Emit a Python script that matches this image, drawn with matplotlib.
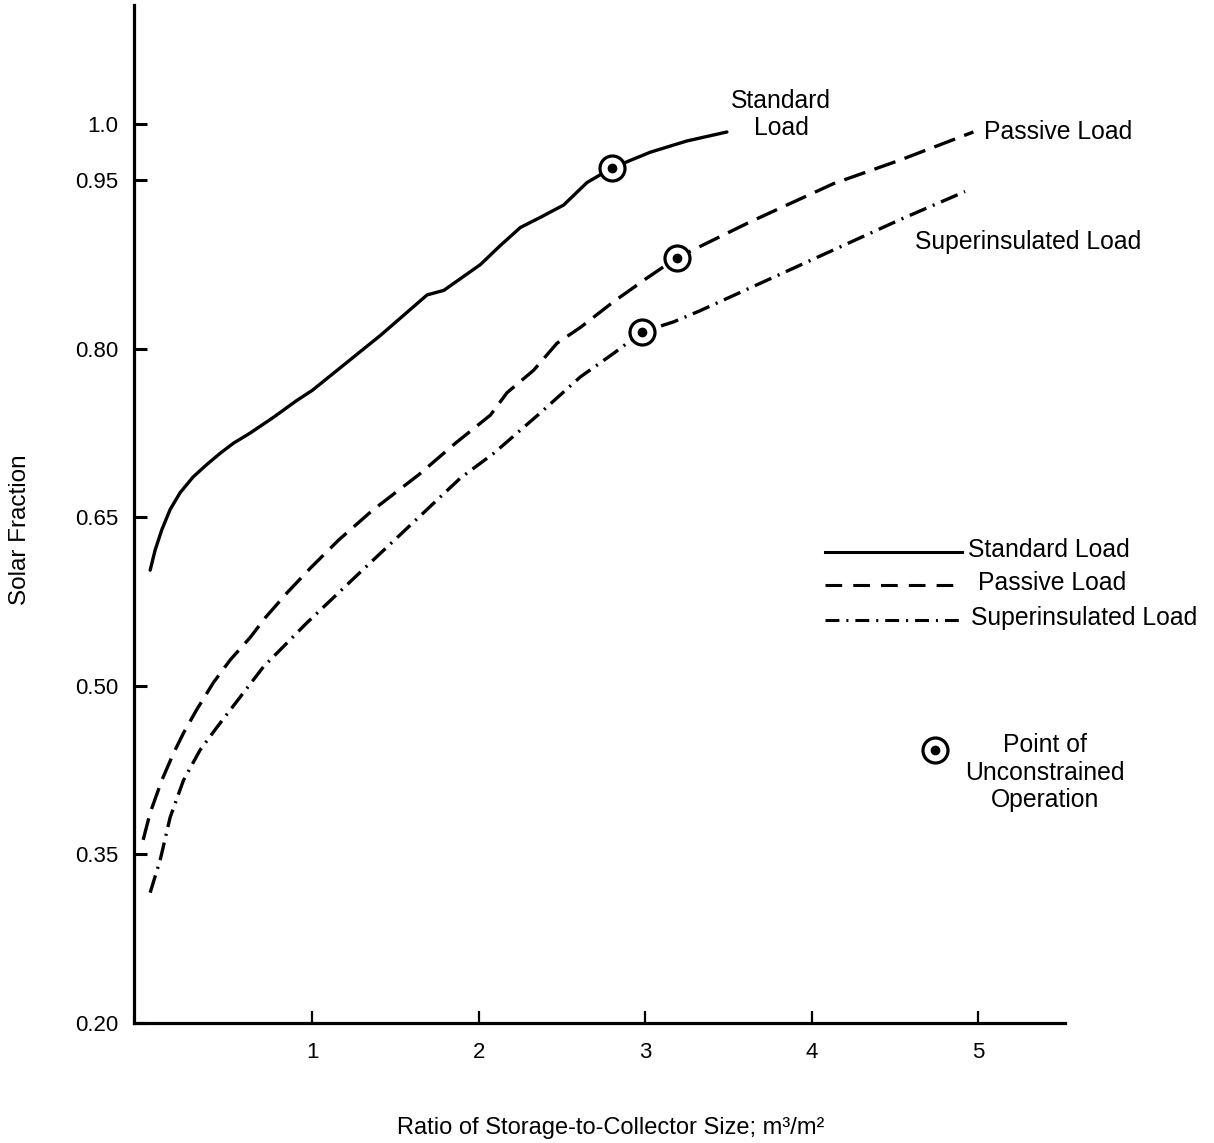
import matplotlib
matplotlib.use("Agg")
import matplotlib.pyplot as plt
from matplotlib.lines import Line2D

plt.rcParams['font.family'] = ['Liberation Sans', 'DejaVu Sans']
plt.rcParams['lines.scale_dashes'] = False

# Storage-to-collector ratio (m3/m2) vs. solar fraction for three load types
standard_x = [0.027, 0.057, 0.097, 0.147, 0.207, 0.285, 0.367, 0.447, 0.527, 0.627, 0.767,
              0.907, 1.00, 1.41, 1.69, 1.79, 2.01, 2.13, 2.25, 2.37, 2.51, 2.65, 2.80, 3.03,
              3.25, 3.49]
standard_y = [0.603, 0.621, 0.639, 0.657, 0.672, 0.686, 0.697, 0.707, 0.716, 0.725, 0.739,
              0.754, 0.763, 0.812, 0.848, 0.852, 0.875, 0.892, 0.908, 0.917, 0.928, 0.948, 0.961, 0.975,
              0.985, 0.993]

passive_x = [-0.015, 0.027, 0.097, 0.167, 0.227, 0.307, 0.407, 0.507, 0.627, 0.72, 0.85,
             0.99, 1.16, 1.36, 1.64, 1.86, 2.07, 2.17, 2.33, 2.47, 2.61, 2.81, 3.01, 3.19,
             3.63, 4.13, 4.53, 4.97]
passive_y = [0.363, 0.387, 0.416, 0.440, 0.458, 0.479, 0.503, 0.523, 0.543, 0.561, 0.583,
             0.605, 0.630, 0.656, 0.688, 0.716, 0.741, 0.761, 0.781, 0.805, 0.819, 0.842, 0.863, 0.881,
             0.913, 0.947, 0.968, 0.993]

superins_x = [0.027, 0.087, 0.147, 0.227, 0.327, 0.427, 0.567, 0.707, 0.847, 0.967, 1.28,
              1.51, 1.89, 2.09, 2.37, 2.61, 2.81, 2.98, 3.17, 3.33, 3.73, 4.13, 4.53, 4.92]
superins_y = [0.316, 0.345, 0.383, 0.416, 0.443, 0.463, 0.490, 0.517, 0.538, 0.556, 0.600,
              0.632, 0.685, 0.707, 0.743, 0.775, 0.796, 0.815, 0.824, 0.834, 0.861, 0.888, 0.915, 0.940]

# Points of unconstrained operation (standard, passive, superinsulated)
unconstrained_x = [2.80, 3.19, 2.98]
unconstrained_y = [0.961, 0.881, 0.815]

x_ticks = [1, 2, 3, 4, 5]
x_tick_labels = ["1", "2", "3", "4", "5"]
y_ticks = [0.20, 0.35, 0.50, 0.65, 0.80, 0.95, 1.0]
y_tick_labels = ["0.20", "0.35", "0.50", "0.65", "0.80", "0.95", "1.0"]

W, H = 1214, 1143
fig = plt.figure(figsize=(W / 100, H / 100), dpi=100)
ax = fig.add_axes([134 / W, 1 - 1023 / H, (1065 - 134) / W, (1023 - 5) / H])

lw = 2.4
dash = (0, (16, 7))
dashdot = (0, (13, 5, 1.5, 5))

ax.plot(standard_x, standard_y, color='black', lw=lw,
        solid_capstyle='round', solid_joinstyle='round')
ax.plot(passive_x, passive_y, color='black', lw=lw, linestyle=dash)
ax.plot(superins_x, superins_y, color='black', lw=lw, linestyle=dashdot)

ax.plot(unconstrained_x, unconstrained_y, linestyle='none', marker='o', ms=18,
        mfc='white', mec='black', mew=2.3, zorder=5)
ax.plot(unconstrained_x, unconstrained_y, linestyle='none', marker='o', ms=6,
        mfc='black', mec='black', zorder=6)

ax.set_xlim(-0.07, 5.52)
ax.set_ylim(0.20, 1.106)

for side in ('top', 'right'):
    ax.spines[side].set_visible(False)
for side in ('left', 'bottom'):
    ax.spines[side].set_linewidth(2.3)

ax.set_xticks(x_ticks)
ax.set_xticklabels(x_tick_labels)
ax.set_yticks(y_ticks)
ax.set_yticklabels(y_tick_labels)
ax.tick_params(axis='y', direction='in', length=9, width=2.2, pad=11, labelsize=16)
ax.tick_params(axis='x', direction='in', length=9, width=1.6, pad=14, labelsize=16)

fs = 17.8

# Curve annotations
fig.text(781 / W, 1 - 101 / H, "Standard", ha='center', va='center', fontsize=fs)
fig.text(781 / W, 1 - 128 / H, "Load", ha='center', va='center', fontsize=fs)
fig.text(984 / W, 1 - 132 / H, "Passive Load", ha='left', va='center', fontsize=fs)
fig.text(915 / W, 1 - 242 / H, "Superinsulated Load", ha='left', va='center', fontsize=fs)

# Key for the line styles
key_rows = [
    (552, 968, "Standard Load", '-'),
    (585, 978, "Passive Load", (0, (12, 8))),
    (620, 971, "Superinsulated Load", (0, (10, 5, 1.5, 5))),
]
for y_px, tx, label, ls in key_rows:
    fig.add_artist(Line2D([825 / W, 962 / W], [1 - y_px / H, 1 - y_px / H],
                          transform=fig.transFigure, color='black', lw=2.2, linestyle=ls))
    fig.text(tx / W, 1 - (y_px - 2) / H, label, ha='left', va='center', fontsize=fs)

# Key for the unconstrained-operation symbol
fig.add_artist(Line2D([935 / W], [1 - 750 / H], transform=fig.transFigure, linestyle='none',
                      marker='o', ms=18, mfc='white', mec='black', mew=2.3))
fig.add_artist(Line2D([935 / W], [1 - 750 / H], transform=fig.transFigure, linestyle='none',
                      marker='o', ms=6, mfc='black', mec='black'))
for y_px, line in [(745, "Point of"), (773, "Unconstrained"), (800, "Operation")]:
    fig.text(1045 / W, 1 - y_px / H, line, ha='center', va='center', fontsize=fs)

fig.text(611 / W, 1 - 1128 / H, "Ratio of Storage-to-Collector Size; m³/m²",
         ha='center', va='center', fontsize=17)
fig.text(20 / W, 1 - 530 / H, "Solar Fraction", ha='center', va='center',
         rotation=90, fontsize=17.5)

fig.savefig("out.png", dpi=100, facecolor='white')
